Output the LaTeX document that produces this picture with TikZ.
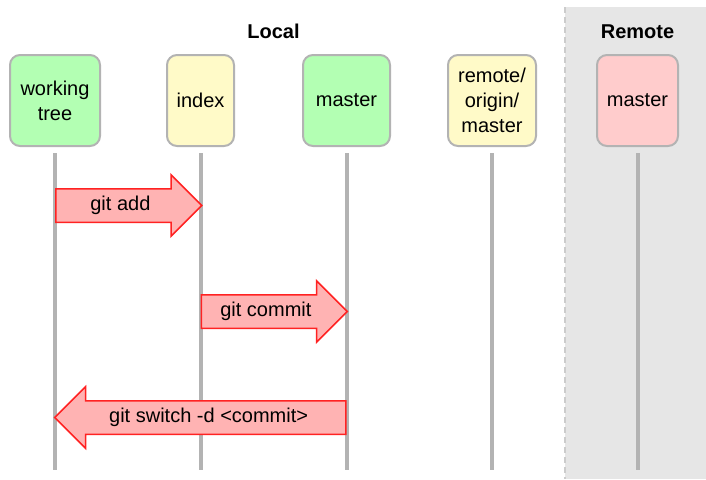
\documentclass[tikz,border=0pt]{standalone}
\usepackage{fontspec}
\setmainfont{Liberation Sans}
\usetikzlibrary{positioning,shapes.arrows}

\definecolor{boxgreen}{RGB}{179,255,179}
\definecolor{boxyellow}{RGB}{255,250,200}
\definecolor{boxpink}{RGB}{255,204,204}
\definecolor{boxline}{RGB}{179,179,179}
\definecolor{cmdfill}{RGB}{255,179,179}
\definecolor{cmdline}{RGB}{255,34,34}
\definecolor{remotebg}{RGB}{230,230,230}
\definecolor{remoteedge}{RGB}{204,204,204}

\tikzset{
  branch/.style={draw=boxline, line width=2pt, rounded corners=10pt,
    minimum height=91pt, align=center, font=\fontsize{20}{25}\selectfont},
  lifeline/.style={draw=boxline, line width=4pt},
  cmd/.style={single arrow, draw=cmdline, fill=cmdfill, line width=1.5pt,
    single arrow head extend=14pt, single arrow tip angle=90,
    text height=13pt, text depth=4pt, inner ysep=7.5pt,
    font=\fontsize{20}{25}\selectfont},
  title/.style={font=\fontsize{20}{25}\selectfont\bfseries, anchor=base}
}

\begin{document}
\begin{tikzpicture}[x=1pt, y=-1pt]
            \useasboundingbox (0,0) rectangle (706,479);

            % Remote side (grey area with dashed border)
            \fill[remotebg] (565,7) rectangle (706,479);
            \draw[remoteedge, line width=1.5pt, dash pattern=on 6pt off 4pt] (565,7) -- (565,479);

            % Titles
            \node[title] (local) at (273.5,38) {Local};
            \node[title] (remote) at (637.5,38) {Remote};

            %% Branches
            \node[branch, fill=boxgreen, minimum width=90pt] (wt) at (55,100.5) {working\\tree};
            \node[branch, fill=boxyellow, minimum width=67pt] (idx) at (200.5,100.5) {index};
            \node[branch, fill=boxgreen, minimum width=87pt] (mst) at (346.5,100.5) {master};
            \node[branch, fill=boxyellow, minimum width=88pt] (rom) at (492,100.5) {remote/\\origin/\\master};
            \node[branch, fill=boxpink, minimum width=81pt] (rmst) at (637.5,100.5) {master};

            % Lifelines below each branch
            \foreach \b in {wt,idx,mst,rom,rmst}
              \draw[lifeline] ([yshift=-6pt]\b.south) -- (\b |- 0,470);

            %% Commands
            \node[cmd, minimum height=146pt, anchor=tail] (add) at (wt |- 0,205.5) {git add};
            \node[cmd, minimum height=146pt, anchor=tail] (commit) at (idx |- 0,311.5) {git commit};
            \node[cmd, minimum height=291pt, shape border rotate=180, anchor=tail] (switch) at (mst |- 0,417.5) {git switch -d <commit>};

        \end{tikzpicture}
\end{document}
